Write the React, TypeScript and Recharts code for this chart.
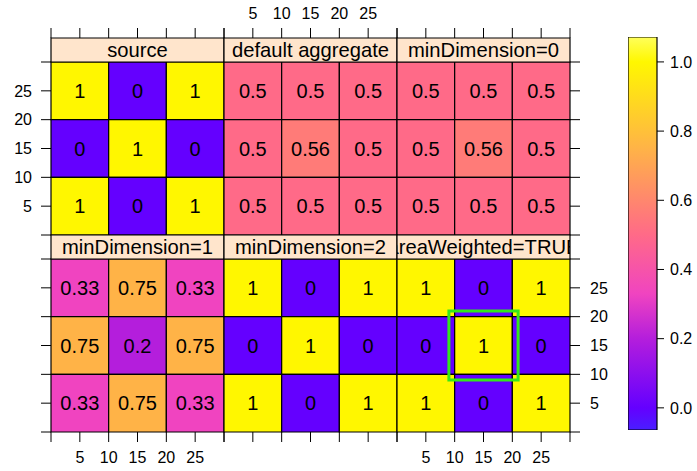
import React from 'react';
import { ComposedChart, XAxis, YAxis, ReferenceArea, Scatter } from 'recharts';

const FONT = '"Liberation Sans", Arial, Helvetica, sans-serif';

// ---------- data ----------
const panelTitles = [
  'source',
  'default aggregate',
  'minDimension=0',
  'minDimension=1',
  'minDimension=2',
  'areaWeighted=TRUE',
];
// each grid: rows from top (y 20-30) to bottom (y 0-10), columns left to right
const sourceValues = [
  [1, 0, 1],
  [0, 1, 0],
  [1, 0, 1],
];
const defaultAggregateValues = [
  [0.5, 0.5, 0.5],
  [0.5, 0.56, 0.5],
  [0.5, 0.5, 0.5],
];
const minDimension0Values = [
  [0.5, 0.5, 0.5],
  [0.5, 0.56, 0.5],
  [0.5, 0.5, 0.5],
];
const minDimension1Values = [
  [0.33, 0.75, 0.33],
  [0.75, 0.2, 0.75],
  [0.33, 0.75, 0.33],
];
const minDimension2Values = [
  [1, 0, 1],
  [0, 1, 0],
  [1, 0, 1],
];
const areaWeightedValues = [
  [1, 0, 1],
  [0, 1, 0],
  [1, 0, 1],
];
const panelValues = [
  sourceValues,
  defaultAggregateValues,
  minDimension0Values,
  minDimension1Values,
  minDimension2Values,
  areaWeightedValues,
];
const cellEdges = [0, 10, 20, 30];
const cellCenters = [5, 15, 25];
const axisTicks = [0, 5, 10, 15, 20, 25, 30];
const axisTickLabels = [5, 10, 15, 20, 25];
const colorKeyTicks = [0, 0.2, 0.4, 0.6, 0.8, 1];
const colorKeyDomain = [-0.064, 1.072];
const paletteValues = [-0.064, 0, 0.2, 0.33, 0.5, 0.56, 0.75, 1, 1.072];
const paletteColors = ['#4A1EFF', '#6400FF', '#B41EDC', '#F044C0', '#FF6A88', '#FF7B78', '#FFB347', '#FFF700', '#FFFF5A'];
const highlightPanel = 5;
const highlightBox = { x1: 9, x2: 21, y1: 9, y2: 21 };

// ---------- layout ----------
const PANEL_PX = 173;
const STRIP_PX = 24;
const Y_MAX = (30 * (PANEL_PX + STRIP_PX)) / PANEL_PX;
const AX_W = 60;
const AX_H = 40;
const COL_X = [51, 224, 397];
const ROW_TOP = [38, 235];
const STRIP_BG = '#FFE5CC';

function hexToRgb(h: string) {
  const n = parseInt(h.slice(1), 16);
  return [(n >> 16) & 255, (n >> 8) & 255, n & 255];
}
function colorFor(v: number) {
  if (v <= paletteValues[0]) return paletteColors[0];
  for (let i = 1; i < paletteValues.length; i++) {
    if (v <= paletteValues[i]) {
      const t = (v - paletteValues[i - 1]) / (paletteValues[i] - paletteValues[i - 1]);
      const a = hexToRgb(paletteColors[i - 1]);
      const b = hexToRgb(paletteColors[i]);
      const c = a.map((x, k) => Math.round(x + (b[k] - x) * t));
      return `rgb(${c[0]},${c[1]},${c[2]})`;
    }
  }
  return paletteColors[paletteColors.length - 1];
}

function makeTick(side: string, show: boolean, fmt?: (v: number) => string, labels?: number[]) {
  return (props: any) => {
    const { x, y, payload } = props;
    const v = payload ? payload.value : undefined;
    const allowed = labels ? labels : axisTickLabels;
    if (!show || !allowed.includes(v)) return <g />;
    const txt = fmt ? fmt(v) : String(v);
    let anchor: any = 'middle';
    let dy = '0.355em';
    if (side === 'left') anchor = 'end';
    if (side === 'right') anchor = 'start';
    if (side === 'top') dy = '0';
    if (side === 'bottom') dy = '0.71em';
    return (
      <text x={x} y={y} dy={dy} textAnchor={anchor} fontSize={16} fontFamily={FONT} fill="#000">
        {txt}
      </text>
    );
  };
}

function stripContent(title: string) {
  return (props: any) => {
    const vb = props.viewBox || { x: 0, y: 0, width: 0, height: 0 };
    return (
      <svg x={vb.x} y={vb.y} width={vb.width} height={vb.height} overflow="hidden">
        <text
          x={vb.width / 2}
          y={vb.height / 2}
          dy="0.36em"
          textAnchor="middle"
          fontSize={20.2}
          fontFamily={FONT}
          fill="#000"
        >
          {title}
        </text>
      </svg>
    );
  };
}

const CellLabel = (props: any) => {
  const { cx, cy, payload } = props;
  if (cx == null || cy == null) return <g />;
  return (
    <text x={cx} y={cy} dy="0.355em" textAnchor="middle" fontSize={20} fontFamily={FONT} fill="#000">
      {String(payload.v)}
    </text>
  );
};

function Panel({ index }: { index: number }) {
  const row = Math.floor(index / 3);
  const col = index % 3;
  const values = panelValues[index];
  const cells: any[] = [];
  values.forEach((r, i) =>
    r.forEach((v, j) =>
      cells.push({
        x: cellCenters[j],
        y: cellCenters[2 - i],
        x1: cellEdges[j],
        x2: cellEdges[j + 1],
        y1: cellEdges[2 - i],
        y2: cellEdges[3 - i],
        v,
      })
    )
  );
  const topTicks = row === 0;
  const bottomTicks = row === 1;
  const leftTicks = col === 0;
  const rightTicks = col === 2;
  const topLabels = row === 0 && col === 1;
  const bottomLabels = row === 1 && col !== 1;
  const leftLabels = row === 0 && col === 0;
  const rightLabels = row === 1 && col === 2;
  const W = AX_W * 2 + PANEL_PX;
  const H = AX_H * 2 + PANEL_PX + STRIP_PX;
  const tl = { stroke: '#000', strokeWidth: 1 };
  return (
    <div style={{ position: 'absolute', left: COL_X[col] - AX_W, top: ROW_TOP[row] - AX_H }}>
      <ComposedChart width={W} height={H} data={cells} margin={{ top: 0, right: 0, bottom: 0, left: 0 }}>
        <XAxis
          xAxisId="top"
          orientation="top"
          type="number"
          dataKey="x"
          domain={[0, 30]}
          ticks={axisTicks}
          interval={0}
          height={AX_H}
          axisLine={false}
          stroke="#000"
          tickLine={topTicks ? tl : false}
          tickSize={10}
          tickMargin={9}
          tick={makeTick('top', topLabels)}
          allowDataOverflow
        />
        <XAxis
          xAxisId="bottom"
          orientation="bottom"
          type="number"
          dataKey="x"
          domain={[0, 30]}
          ticks={axisTicks}
          interval={0}
          height={AX_H}
          axisLine={false}
          stroke="#000"
          tickLine={bottomTicks ? tl : false}
          tickSize={10}
          tickMargin={10}
          tick={makeTick('bottom', bottomLabels)}
          allowDataOverflow
        />
        <YAxis
          yAxisId="left"
          orientation="left"
          type="number"
          dataKey="y"
          domain={[0, Y_MAX]}
          ticks={axisTicks}
          interval={0}
          width={AX_W}
          axisLine={false}
          stroke="#000"
          tickLine={leftTicks ? tl : false}
          tickSize={10}
          tickMargin={9}
          tick={makeTick('left', leftLabels)}
          allowDataOverflow
        />
        <YAxis
          yAxisId="right"
          orientation="right"
          type="number"
          dataKey="y"
          domain={[0, Y_MAX]}
          ticks={axisTicks}
          interval={0}
          width={AX_W}
          axisLine={false}
          stroke="#000"
          tickLine={rightTicks ? tl : false}
          tickSize={10}
          tickMargin={10}
          tick={makeTick('right', rightLabels)}
          allowDataOverflow
        />
        {cells.map((c, k) => (
          <ReferenceArea
            key={`cell-${k}`}
            xAxisId="bottom"
            yAxisId="left"
            x1={c.x1}
            x2={c.x2}
            y1={c.y1}
            y2={c.y2}
            fill={colorFor(c.v)}
            fillOpacity={1}
            stroke="#000"
            strokeWidth={1.2}
            ifOverflow="visible"
          />
        ))}
        <ReferenceArea
          xAxisId="bottom"
          yAxisId="left"
          x1={0}
          x2={30}
          y1={30}
          y2={Y_MAX}
          fill={STRIP_BG}
          fillOpacity={1}
          stroke="#000"
          strokeWidth={1.2}
          ifOverflow="visible"
          label={{ content: stripContent(panelTitles[index]) } as any}
        />
        <Scatter
          xAxisId="bottom"
          yAxisId="left"
          dataKey="y"
          isAnimationActive={false}
          shape={CellLabel}
        />
        {index === highlightPanel && (
          <ReferenceArea
            xAxisId="bottom"
            yAxisId="left"
            x1={highlightBox.x1}
            x2={highlightBox.x2}
            y1={highlightBox.y1}
            y2={highlightBox.y2}
            fill="none"
            fillOpacity={0}
            stroke="#33E81A"
            strokeWidth={3}
            ifOverflow="visible"
          />
        )}
      </ComposedChart>
    </div>
  );
}

function ColorKey() {
  const data = colorKeyTicks.map((v) => ({ x: 0.5, y: v }));
  const span = colorKeyDomain[1] - colorKeyDomain[0];
  return (
    <div style={{ position: 'absolute', left: 628, top: 37 }}>
      <ComposedChart width={29 + 60} height={393} data={data} margin={{ top: 0, right: 0, bottom: 0, left: 0 }}>
        <defs>
          <linearGradient id="colorKeyGradient" x1="0" y1="1" x2="0" y2="0">
            {paletteValues.map((v, i) => (
              <stop key={i} offset={`${((v - colorKeyDomain[0]) / span) * 100}%`} stopColor={paletteColors[i]} />
            ))}
          </linearGradient>
        </defs>
        <XAxis type="number" dataKey="x" domain={[0, 1]} hide allowDataOverflow />
        <YAxis
          orientation="right"
          type="number"
          dataKey="y"
          domain={colorKeyDomain}
          ticks={colorKeyTicks}
          interval={0}
          width={60}
          axisLine={false}
          stroke="#000"
          tickLine={{ stroke: '#000' }}
          tickSize={7}
          tickMargin={6}
          tick={makeTick('right', true, (v) => v.toFixed(1), colorKeyTicks)}
          allowDataOverflow
        />
        <ReferenceArea
          x1={0}
          x2={1}
          y1={colorKeyDomain[0]}
          y2={colorKeyDomain[1]}
          fill="url(#colorKeyGradient)"
          fillOpacity={1}
          stroke="#000"
          strokeWidth={1.2}
          ifOverflow="visible"
        />
        <Scatter dataKey="y" isAnimationActive={false} shape={() => <g />} />
      </ComposedChart>
    </div>
  );
}

export default function App() {
  return (
    <div
      style={{
        position: 'absolute',
        left: 0,
        top: 0,
        width: 697,
        height: 471,
        background: '#fff',
        overflow: 'hidden',
        fontFamily: FONT,
      }}
    >
      {panelTitles.map((_, i) => (
        <Panel key={i} index={i} />
      ))}
      <ColorKey />
    </div>
  );
}
